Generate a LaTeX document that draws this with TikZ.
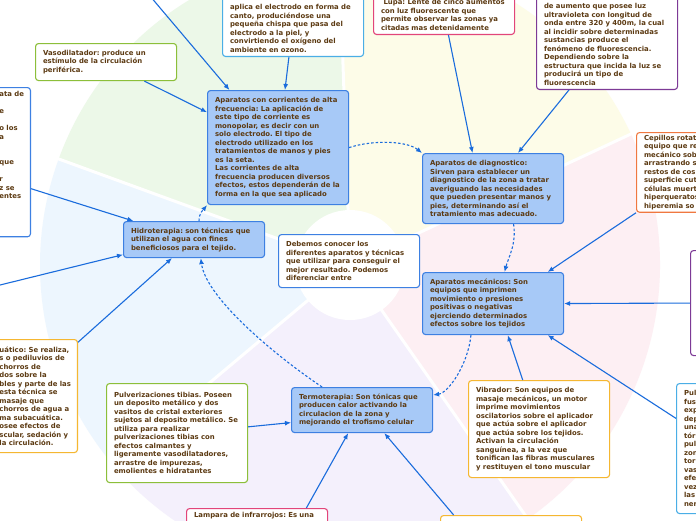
\documentclass[tikz,border=0pt]{standalone}
\usepackage{fontspec}
\setmainfont{DejaVu Sans}
\usetikzlibrary{arrows.meta}

\definecolor{brun}{HTML}{5C3A12}
\definecolor{bleufond}{HTML}{A7C9F7}
\definecolor{bleubord}{HTML}{3D80E2}
\definecolor{bleufleche}{HTML}{1A6CDC}
\definecolor{bleuclair}{HTML}{4AAEE6}
\definecolor{vert}{HTML}{8CBF3A}
\definecolor{rose}{HTML}{E2457A}
\definecolor{violet}{HTML}{7D3A96}
\definecolor{orange}{HTML}{F07840}
\definecolor{jaune}{HTML}{F5B731}
\definecolor{fondvert}{HTML}{ECF8E8}
\definecolor{fondjaune}{HTML}{FDFCE8}
\definecolor{fondrose}{HTML}{FDEFF3}
\definecolor{fondviolet}{HTML}{F4F0FC}
\definecolor{fondbleu}{HTML}{EDF6FE}

\newcommand{\policecarte}{\fontsize{6.9}{8.5}\selectfont\bfseries\frenchspacing}

\begin{document}
\begin{tikzpicture}[x=1pt,y=-1pt,
  boite/.style={draw, rounded corners=3pt, line width=1.1pt, fill=white, text=brun,
    font=\policecarte, align=left, text width=126pt, inner xsep=7.5pt, inner ysep=4pt,
    anchor=north west},
  principal/.style={boite, draw=bleubord, fill=bleufond},
  fleche/.style={-{Latex[length=6pt,width=5pt]}, bleufleche, line width=1.1pt},
  pointille/.style={fleche, dash pattern=on 2.5pt off 2pt}]

\useasboundingbox (0,0) rectangle (696,520);

% Fond en secteurs
\fill[white] (0,0) rectangle (696,520);
\coordinate (centre) at (350,265);
\foreach \debut/\fin/\teinte in {200/268/fondvert, 268/335/fondjaune, 335/415/fondrose, 415/500/fondviolet, 500/560/fondbleu}
{
    \fill[\teinte]
    (centre) -- +(\debut:310)
    arc[start angle=\debut, end angle=\fin, radius=310]
    -- cycle;
}
\foreach \a in {200,268,335,415,500}
{
    \draw[white, line width=3pt] (centre) -- +(\a:320);
}
\fill[white] (centre) circle (55);

% Boites du haut
\node[boite, draw=bleuclair, anchor=south west] (haute) at (222,57)
{\mbox{}\\ \mbox{}\\ aplica el electrodo en forma de\\ canto, produciéndose una\\ pequeña chispa que pasa del\\ electrodo a la piel, y\\ convirtiendo el oxígeno del\\ ambiente en ozono.};

\node[boite, draw=vert, minimum height=37pt] (vaso) at (35,43)
{Vasodilatador: produce un\\ estímulo de la circulación\\ periférica.};

\node[boite, draw=rose, anchor=south west] (lupa) at (373,35)
{\mbox{}\\ \hspace*{2.5pt}Lupa: Lente de cinco aumentos\\ con luz fluorescente que\\ permite observar las zonas ya\\ citadas mas detenidamente};

\node[boite, draw=violet, anchor=south west] (uv) at (536,90)
{\mbox{}\\ de aumento que posee luz\\ ultravioleta con longitud de\\ onda entre 320 y 400m, la cual\\ al incidir sobre determinadas\\ sustancias produce el\\ fenómeno de fluorescencia.\\ Dependiendo sobre la\\ estructura que incida la luz se\\ producirá un tipo de\\ fluorescencia};

% Boites principales
\node[principal, minimum height=114pt] (altafreq) at (207,90)
{Aparatos con corrientes de alta\\ frecuencia: La aplicación de\\ este tipo de corriente es\\ monopolar, es decir con un\\ solo electrodo. El tipo de\\ electrodo utilizado en los\\ tratamientos de manos y pies\\ es la seta.\\ Las corrientes de alta\\ frecuencia producen diversos\\ efectos, estos dependerán de la\\ forma en la que sea aplicado};

\node[principal, minimum height=70pt] (diag) at (422,153)
{Aparatos de diagnostico:\\ Sirven para establecer un\\ diagnostico de la zona a tratar\\ averiguando las necesidades\\ que pueden presentar manos y\\ pies, determinando así el\\ tratamiento mas adecuado.};

\node[principal, minimum height=36pt] (hidro) at (123,221)
{Hidroterapia: son técnicas que\\ utilizan el agua con fines\\ beneficiosos para el tejido.};

\node[boite, draw=bleubord, minimum height=53pt] (debemos) at (278,234)
{Debemos conocer los\\ diferentes aparatos y técnicas\\ que utilizar para conseguir el\\ mejor resultado. Podemos\\ diferenciar entre};

\node[principal, minimum height=62pt] (meca) at (422,272)
{Aparatos mecánicos: Son\\ equipos que imprimen\\ movimiento o presiones\\ positivas o negativas\\ ejerciendo determinados\\ efectos sobre los tejidos};

\node[principal, minimum height=45pt] (termo) at (291,387)
{Termoterapia: Son tónicas que\\ producen calor activando la\\ circulacion de la zona y\\ mejorando el trofismo celular};

% Boites des bords
\node[boite, draw=bleubord, anchor=north east, inner xsep=5pt, text width=26pt] (gauche) at (31,87)
{ata~de\\ \mbox{}\\ e\\ \mbox{}\\ o~los\\ a\\ \mbox{}\\ \mbox{}\\ que\\ \mbox{}\\ r\\ z~se\\ entes\\ \mbox{}\\ \mbox{}\\ \mbox{}\\ \mbox{}};

\node[boite, draw=orange, inner ysep=2.5pt] (cepillos) at (636,132)
{Cepillos rotat\\ equipo que re\\ mecánico sob\\ arrastrando s\\ restos de cos\\ superficie cut\\ células muert\\ hiperqueratos\\ hiperemia so};

\node[boite, draw=violet, minimum height=105pt] (droite) at (690,250) {};

\node[boite, draw=jaune, anchor=north east, inner xsep=5pt, text width=73pt, minimum height=113pt] (subac) at (78,339)
{uático: Se realiza,\\ s o pediluvios de\\ chorros de\\ dos sobre la\\ bles y parte de las\\ esta técnica se\\ masaje que\\ chorros de agua a\\ ma subacuática.\\ osee efectos de\\ scular, sedación y\\ la circulación.};

\node[boite, draw=vert, minimum height=99pt] (pulv) at (106,383)
{Pulverizaciones tibias. Poseen\\ un deposito metálico y dos\\ vasitos de cristal exteriores\\ sujetos al deposito metálico. Se\\ utiliza para realizar\\ pulverizaciones tibias con\\ efectos calmantes y\\ ligeramente vasodilatadores,\\ arrastre de impurezas,\\ emolientes e hidratantes};

\node[boite, draw=jaune, minimum height=97pt] (vibra) at (468,380)
{Vibrador: Son equipos de\\ masaje mecánicos, un motor\\ imprime movimientos\\ oscilatorios sobre el aplicador\\ que actúa sobre el aplicador\\ que actúa sobre los tejidos.\\ Activan la circulación\\ sanguínea, a la vez que\\ tonifican las fibras musculares\\ y restituyen el tono muscular};

\node[boite, draw=bleuclair, minimum height=130pt] (pulvdroite) at (676,383)
{Pul\\ fus\\ exp\\ dep\\ una\\ tór\\ pul\\ zon\\ tor\\ vas\\ efe\\ vez\\ las\\ ner};

\node[boite, draw=rose] (lampara) at (186,508)
{Lampara de infrarrojos: Es una\\ \mbox{}\\ \mbox{}\\ \mbox{}};

\node[boite, draw=jaune, minimum height=50pt] (jaunebas) at (440,515) {};

% Extremites hors cadre
\coordinate (horshaut) at (150,-4);
\coordinate (horsgauche) at (-4,286);

% Fleches vers les boites principales
\draw[fleche] (horshaut) -- (altafreq);
\draw[fleche] (vaso) -- (altafreq);
\draw[fleche] (haute) -- (altafreq);
\draw[fleche] (lupa) -- (diag.120);
\draw[fleche] (uv) -- (diag.55);
\draw[fleche] (gauche.-55) -- (hidro.163);
\draw[fleche] (horsgauche) -- (hidro.-168);
\draw[fleche] (subac.52) -- (hidro.-140);
\draw[fleche] (cepillos.south west) -- (meca.30);
\draw[fleche] (droite.west) -- (meca.east);
\draw[fleche] (vibra) -- (meca.-65);
\draw[fleche] (pulvdroite.157) -- (meca.-30);
\draw[fleche] (pulv.5) -- (termo.-170);
\draw[fleche] (lampara.22) -- (termo.-121);
\draw[fleche] (jaunebas.156) -- (termo.-46);

% Liens pointilles entre les familles
\draw[pointille]
(altafreq.east)
.. controls +(25,-8) and +(-15,-12) ..
(diag.north west);

\draw[pointille]
(diag.-60)
.. controls +(3,20) and +(4,-15) ..
(meca.70);

\draw[pointille]
(meca.-125)
.. controls +(-3,30) and +(15,-2) ..
(termo.12);

\draw[pointille]
(termo.150)
.. controls +(-45,-30) and +(5,40) ..
(hidro.-70);

\draw[pointille]
(hidro.75)
.. controls +(0,-8) and +(-4,5) ..
(altafreq.south west);

\end{tikzpicture}
\end{document}
